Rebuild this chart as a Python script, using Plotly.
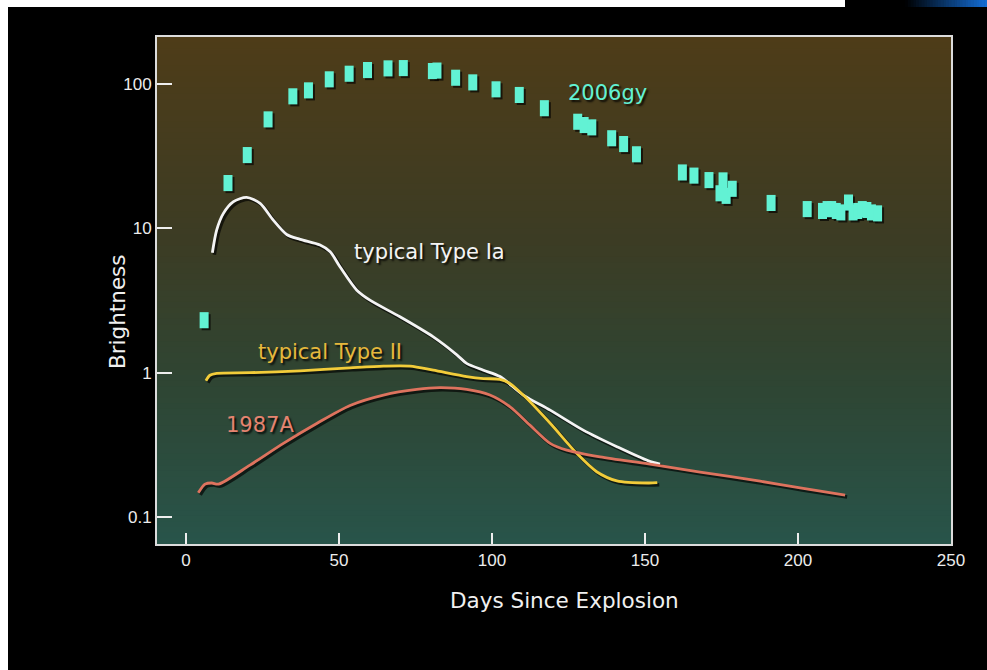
import numpy as np
import plotly.graph_objects as go

# ---- data -----------------------------------------------------------------
# SN 2006gy photometry (days since explosion, relative brightness)
gy_days = [5.9, 13.7, 20.0, 26.8, 34.9, 40.0, 46.8, 53.3, 59.3, 66.0, 71.0,
           80.5, 82.0, 88.1, 93.7, 101.3, 108.9, 117.1, 128.0, 130.1, 132.6,
           139.1, 143.0, 147.2, 162.2, 166.0, 170.9, 174.5, 175.5, 176.5,
           178.5, 191.2, 203.0, 208.0, 209.5, 211.0, 212.5, 214.0, 216.5,
           218.0, 219.5, 221.0, 222.5, 224.0, 226.0]
gy_bright = [2.31, 20.6, 32.2, 56.9, 82.2, 90.4, 107.8, 117.9, 125.0, 128.4,
             129.0, 123.0, 124.0, 110.6, 102.7, 91.9, 84.0, 68.0, 54.8, 52.0,
             50.1, 42.1, 38.4, 32.6, 24.4, 23.2, 21.6, 17.5, 21.5, 16.8,
             18.8, 15.0, 13.6, 13.2, 13.6, 13.6, 13.2, 12.9, 15.1, 12.9,
             13.2, 13.6, 13.4, 12.9, 12.7]

# typical Type Ia light curve
ia_days = [8.6, 10.0, 12.2, 15.5, 19.8, 24.2, 28.5, 32.9, 37.3, 43.8, 47.1,
           50.3, 55.8, 60.1, 69.9, 80.8, 88.5, 91.7, 97.2, 102.6, 110.2,
           119.0, 129.8, 140.8, 151.1, 154.9]
ia_bright = [6.78, 9.73, 12.7, 15.3, 16.4, 14.9, 11.4, 9.07, 8.39, 7.66, 6.89,
             5.42, 3.73, 3.18, 2.44, 1.77, 1.33, 1.16, 1.04, 0.94, 0.70,
             0.55, 0.40, 0.307, 0.245, 0.233]

# typical Type II light curve
ii_days = [6.5, 7.8, 10.0, 20.9, 37.3, 53.6, 64.5, 73.2, 80.8, 91.7, 97.2,
           102.6, 105.9, 110.2, 119.0, 127.7, 134.2, 140.8, 151.1, 154.0]
ii_bright = [0.88, 0.96, 0.99, 1.0, 1.03, 1.08, 1.11, 1.11, 1.04, 0.94, 0.91,
             0.90, 0.84, 0.70, 0.446, 0.276, 0.206, 0.178, 0.172, 0.173]

# SN 1987A light curve
sn87_days = [4.0, 6.2, 8.4, 10.6, 20.9, 31.8, 42.7, 53.6, 64.5, 75.4, 83.0,
             91.7, 99.3, 105.9, 112.4, 119.0, 124.4, 135.3, 151.1, 168.0,
             187.6, 200.7, 215.4]
sn87_bright = [0.147, 0.169, 0.172, 0.169, 0.229, 0.324, 0.445, 0.593, 0.70,
               0.766, 0.787, 0.766, 0.70, 0.58, 0.433, 0.324, 0.291, 0.261,
               0.233, 0.205, 0.177, 0.159, 0.142]

x_ticks = [0, 50, 100, 150, 200, 250]
y_ticks = [0.1, 1, 10, 100]
y_tick_text = ["0.1", "1", "10", "100"]

# ---- styling --------------------------------------------------------------
W, H = 987, 670
M_L, M_R, M_T, M_B = 157, 36, 37, 126
X_RANGE = [-9.5, 250.0]
Y_RANGE = [-1.187, 2.326]          # log10 units

C_GY = "#62f2d4"
C_IA = "#f4f4f4"
C_II = "#f2cc3a"
C_87 = "#de735e"
SHADOW = "rgba(0,0,0,0.65)"
FONT = "Liberation Sans, Arial, sans-serif"
LABEL_FONT = "DejaVu Sans, sans-serif"

plot_w = W - M_L - M_R
plot_h = H - M_T - M_B


def xp(px):
    """page pixel column -> paper x"""
    return (px - M_L) / plot_w


def yp(py):
    """page pixel row -> paper y"""
    return 1 - (py - M_T) / plot_h


# the shadow layer sits on axes shifted by ~2 px right / down
dx = 2.0 * (X_RANGE[1] - X_RANGE[0]) / plot_w
dy = 2.0 * (Y_RANGE[1] - Y_RANGE[0]) / plot_h
X_SHADOW = [X_RANGE[0] - dx, X_RANGE[1] - dx]
Y_SHADOW = [Y_RANGE[0] + dy, Y_RANGE[1] + dy]

fig = go.Figure()

curves = [(ia_days, ia_bright, C_IA), (ii_days, ii_bright, C_II),
          (sn87_days, sn87_bright, C_87)]

# drop shadows (base axes)
for xs, ys, _ in curves:
    fig.add_trace(go.Scatter(x=xs, y=ys, mode="lines",
                             line=dict(color=SHADOW, width=3.5, shape="spline",
                                       smoothing=0.8),
                             hoverinfo="skip", xaxis="x", yaxis="y"))
fig.add_trace(go.Scatter(x=gy_days, y=gy_bright, mode="markers",
                         marker=dict(symbol="line-ns", size=11.5, color=SHADOW,
                                     line=dict(width=9, color=SHADOW)),
                         hoverinfo="skip", xaxis="x", yaxis="y"))

# visible curves (overlay axes)
for xs, ys, col in curves:
    fig.add_trace(go.Scatter(x=xs, y=ys, mode="lines",
                             line=dict(color=col, width=2.8, shape="spline",
                                       smoothing=0.8),
                             xaxis="x2", yaxis="y2"))
fig.add_trace(go.Scatter(x=gy_days, y=gy_bright, mode="markers",
                         marker=dict(symbol="line-ns", size=11.5, color=C_GY,
                                     line=dict(width=9, color=C_GY)),
                         xaxis="x2", yaxis="y2"))

# background gradient: brown at the top, teal at the bottom
stops = [(0.0, (40, 84, 74)), (0.3, (46, 70, 52)), (0.6, (60, 60, 36)),
         (1.0, (78, 60, 24))]


def grad(t):
    for (t0, c0), (t1, c1) in zip(stops[:-1], stops[1:]):
        if t <= t1:
            f = (t - t0) / (t1 - t0)
            return tuple(int(round(a + (b - a) * f)) for a, b in zip(c0, c1))
    return stops[-1][1]


shapes = []
n_band = 90
for i in range(n_band):
    y0, y1 = i / n_band, (i + 1) / n_band
    r, g, b = grad((y0 + y1) / 2)
    shapes.append(dict(type="rect", xref="x domain", yref="y domain",
                       x0=0, x1=1, y0=y0, y1=y1 + 0.002, layer="below",
                       line=dict(width=0), fillcolor=f"rgb({r},{g},{b})"))

# page border strips
shapes.append(dict(type="rect", xref="paper", yref="paper",
                   x0=xp(0), x1=xp(845), y0=yp(7), y1=yp(0),
                   line=dict(width=0), fillcolor="white"))
shapes.append(dict(type="rect", xref="paper", yref="paper",
                   x0=xp(0), x1=xp(8), y0=yp(H), y1=yp(0),
                   line=dict(width=0), fillcolor="white"))
n_blue = 30
for i in range(n_blue):
    f = (i + 0.5) / n_blue
    shapes.append(dict(type="rect", xref="paper", yref="paper",
                       x0=xp(905 + i * 82 / n_blue),
                       x1=xp(905 + (i + 1) * 82 / n_blue + 0.6),
                       y0=yp(7), y1=yp(0), line=dict(width=0),
                       fillcolor=f"rgb({int(20*f)},{int(110*f)},{int(215*f)})"))

ann_shadow = "2px 2px 2px rgba(0,0,0,0.85)"
labels = [("2006gy", 137.6, 86.6, C_GY),
          ("typical Type Ia", 79.7, 6.85, C_IA),
          ("typical Type II", 47.1, 1.39, "#e6b83c"),
          ("1987A", 24.2, 0.434, "#e58470")]
annotations = [dict(text=t, x=x, y=float(np.log10(y)), xref="x2", yref="y2",
                    showarrow=False,
                    font=dict(family=LABEL_FONT, size=21, color=c,
                              shadow=ann_shadow))
               for t, x, y, c in labels]

# axis titles
title_font = dict(family=LABEL_FONT, size=21.5, color="#f0f0f0")
annotations.append(dict(text="Days Since Explosion", xref="paper",
                        yref="paper", x=xp(564), y=yp(600), showarrow=False,
                        xanchor="center", yanchor="middle", font=title_font))
annotations.append(dict(text="Brightness", xref="paper", yref="paper",
                        x=xp(117), y=yp(312), textangle=-90, showarrow=False,
                        xanchor="center", yanchor="middle", font=title_font))

axis_common = dict(showgrid=False, zeroline=False, showline=True, mirror=True,
                   linecolor="#dcdcdc", linewidth=2, ticks="inside",
                   tickcolor="#eeeeee", tickwidth=2,
                   tickfont=dict(family=FONT, size=17, color="#ececec"))

fig.update_layout(
    width=W, height=H,
    margin=dict(l=M_L, r=M_R, t=M_T, b=M_B),
    paper_bgcolor="black", plot_bgcolor="rgba(0,0,0,0)",
    showlegend=False,
    shapes=shapes,
    annotations=annotations,
    xaxis=dict(range=X_SHADOW, visible=False),
    yaxis=dict(type="log", range=Y_SHADOW, visible=False),
    xaxis2=dict(overlaying="x", range=X_RANGE, tickvals=x_ticks, ticklen=11,
                **axis_common),
    yaxis2=dict(overlaying="y", type="log", range=Y_RANGE, tickvals=y_ticks,
                ticktext=y_tick_text, ticklen=15, **axis_common),
)

fig.write_html("out.html")
